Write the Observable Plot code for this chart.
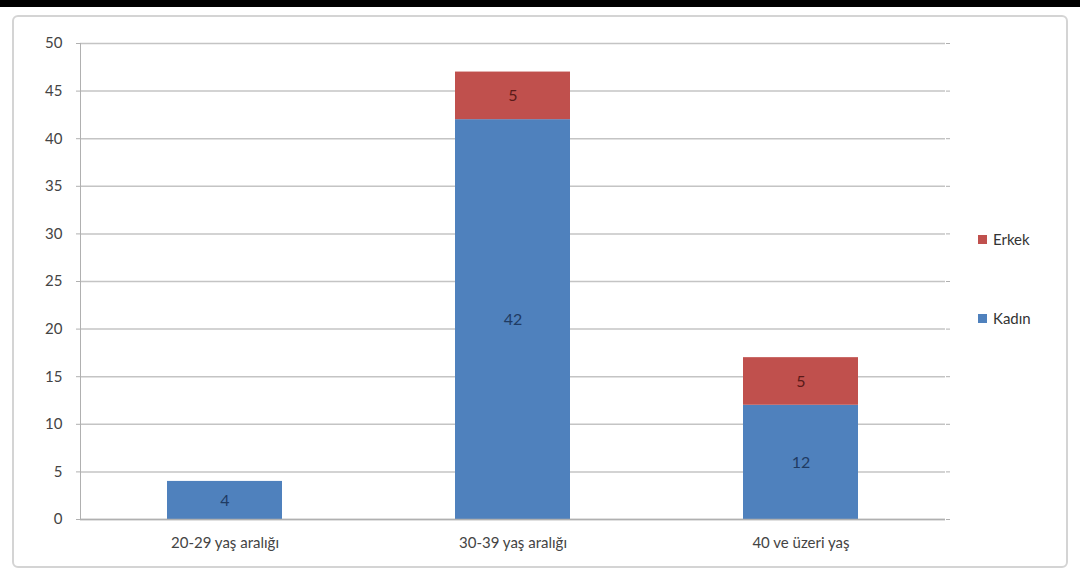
<!DOCTYPE html>
<html>
<head>
<meta charset="utf-8">
<script src="https://cdn.jsdelivr.net/npm/d3@7"></script>
<script src="https://cdn.jsdelivr.net/npm/@observablehq/plot@0.6"></script>
<style>
  html, body { margin: 0; padding: 0; background: #fff; }
  #wrap { position: relative; width: 1080px; height: 577px; overflow: hidden; font-family: Lato, "Open Sans", sans-serif; }
  #topbar { position: absolute; left: 0; top: 0; width: 1080px; height: 7px; background: #000; }
  #frame { position: absolute; left: 12px; top: 15px; width: 1056px; height: 553px; border: 2px solid #d4d4d4; border-radius: 6px; box-sizing: border-box; pointer-events: none; }
  #legend { position: absolute; left: 978px; top: 228px; font-size: 15px; color: #333; }
  .li { display: flex; align-items: center; height: 22px; }
  .sw { width: 9px; height: 9px; margin-right: 6px; }
</style>
</head>
<body>
<div id="wrap">
  <div id="plot"></div>
  <div id="topbar"></div>
  <div id="frame"></div>
  <div id="legend"></div>
</div>
<script>
const categories = ["20-29 yaş aralığı", "30-39 yaş aralığı", "40 ve üzeri yaş"];
const kadin = [4, 42, 12];
const erkek = [0, 5, 5];
const seriesNames = ["Kadın", "Erkek"];
const seriesColors = ["#4F81BD", "#C0504D"];
const labelColors = ["#1F3B63", "#5A1A18"];
const yTicks = [0, 5, 10, 15, 20, 25, 30, 35, 40, 45, 50];

const rows = [];
categories.forEach((c, i) => {
  if (kadin[i] > 0) rows.push({cat: c, series: "Kadın", value: kadin[i]});
  if (erkek[i] > 0) rows.push({cat: c, series: "Erkek", value: erkek[i]});
});

const chart = Plot.plot({
  width: 1080,
  height: 577,
  marginLeft: 80,
  marginRight: 135,
  marginTop: 43,
  marginBottom: 58,
  style: {fontFamily: "Lato, 'Open Sans', sans-serif", fontSize: "15px", color: "#444", background: "transparent"},
  x: {domain: categories, paddingInner: 0.6, paddingOuter: 0.3, label: null, tickSize: 0, tickPadding: 18},
  y: {domain: [0, 50], ticks: yTicks, label: null, tickSize: 0, tickPadding: 18, grid: false},
  color: {domain: seriesNames, range: seriesColors},
  marks: [
    Plot.ruleY(yTicks, {stroke: "#c4c4c4", strokeWidth: 1.5}),
    Plot.axisY({anchor: "right", ticks: yTicks, tickSize: 4, tickFormat: () => "", stroke: "#b0b0b0", label: null}),
    Plot.axisY({anchor: "left", ticks: yTicks, tickSize: 4, tickPadding: 14, stroke: "#b0b0b0", label: null, fill: "#444"}),
    Plot.barY(rows, Plot.stackY({x: "cat", y: "value", fill: "series", order: seriesNames})),
    Plot.text(rows, Plot.stackY({x: "cat", y: "value", z: "series", order: seriesNames, text: "value",
      fill: d => labelColors[seriesNames.indexOf(d.series)], fontSize: 16})),
    Plot.ruleY([0], {stroke: "#b0b0b0", strokeWidth: 1.5}),
    Plot.frame({anchor: "left", stroke: "#b0b0b0"})
  ]
});
document.getElementById("plot").appendChild(chart);

const legend = document.getElementById("legend");
const legendOrder = ["Erkek", "Kadın"];
legendOrder.forEach((name, i) => {
  const div = document.createElement("div");
  div.className = "li";
  div.style.marginBottom = i === 0 ? "57px" : "0";
  const sw = document.createElement("span");
  sw.className = "sw";
  sw.style.background = seriesColors[seriesNames.indexOf(name)];
  const t = document.createElement("span");
  t.textContent = name;
  div.appendChild(sw);
  div.appendChild(t);
  legend.appendChild(div);
});
</script>
</body>
</html>
